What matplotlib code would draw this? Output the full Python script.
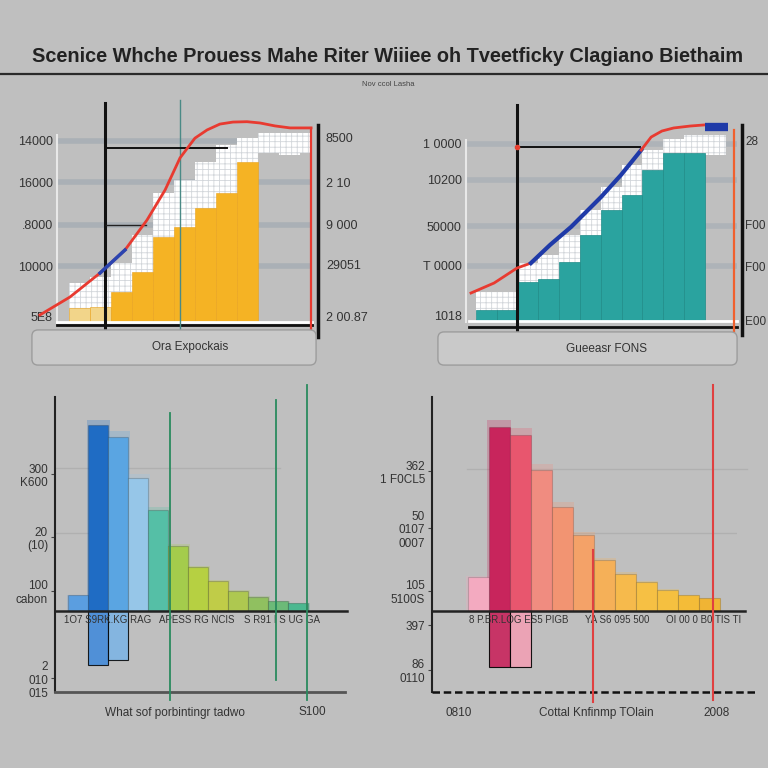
import numpy as np
import matplotlib
matplotlib.use("Agg")
import matplotlib.pyplot as plt
from matplotlib.patches import FancyBboxPatch
from matplotlib.lines import Line2D

plt.rcParams['font.family'] = ['Liberation Sans', 'DejaVu Sans']
plt.rcParams['hatch.linewidth'] = 0.6

# ---------------- data ----------------
title = "Scenice Whche Prouess Mahe Riter Wiiiee oh Tveetficky Clagiano Biethaim"
subtitle = "Nov ccol Lasha"

# top-left panel
tl_bar_x = [2, 3, 4, 5, 6, 7, 8, 9, 10]
tl_bar_v = [8, 9, 17, 28, 47, 52.5, 63, 71, 88]
tl_grid_x = [2, 3, 4, 5, 6, 7, 8, 9, 10, 11, 12, 13]
tl_grid_top = [22, 25, 33, 48, 71, 78, 88, 97, 101, 104, 104, 104]
tl_grid_bot = [0, 0, 0, 0, 0, 0, 0, 0, 0, 93, 92, 93]
tl_curve_x = [0.14, 1.57, 3.0, 4.19, 5.24, 6.1, 6.81, 7.52, 8.1, 8.71, 9.33, 10.0, 10.62, 11.33, 12.05, 13.05]
tl_curve_v = [4.4, 14.2, 27.3, 39.9, 56.3, 72.7, 90.2, 101, 105.5, 108.7, 109.8, 110, 109.3, 107.7, 106.6, 106.6]
tl_left_ticks = [99.5, 77, 53.6, 31.1, 3.3]
tl_left_labels = ["14000", "16000", ".8000", "10000", "5E8"]
tl_right_ticks = [101.6, 77, 53.6, 31.7, 3.3]
tl_right_labels = ["8500", "2 10", "9 000", "29051", "2 00.87"]
tl_xlabel = "Ora Expockais"

# top-right panel
tr_bar_x = [1, 2, 3, 4, 5, 6, 7, 8, 9, 10, 11]
tr_bar_v = [6.7, 6.7, 22.5, 24, 33.7, 48.9, 62.9, 71.3, 85.4, 95, 95]
tr_grid_x = [1, 2, 3, 4, 5, 6, 7, 8, 9, 10, 11, 12]
tr_grid_top = [17, 17, 33, 37.6, 49, 63, 76, 88, 96.6, 103, 105, 105]
tr_grid_bot = [0, 0, 0, 0, 0, 0, 0, 0, 0, 0, 0, 94]
tr_curve_x = [0.26, 1.37, 2.47, 3.14, 4.06, 5.07, 6.51, 7.47, 8.44, 8.92, 9.44, 10.0, 10.8, 11.46]
tr_curve_v = [16.3, 21.9, 30.3, 33.1, 43.3, 53.4, 70.2, 82.6, 96.6, 103.9, 107.3, 109, 110.1, 110.7]
tr_left_ticks = [100, 79.8, 53.9, 31.5, 3.9]
tr_left_labels = ["1 0000", "10200", "50000", "T 0000", "1018"]
tr_right_ticks = [102.2, 55, 30.9, 1.1]
tr_right_labels = ["28", "F00", "F00", "E00"]
tr_xlabel = "Gueeasr FONS"

# bottom-left panel
bl_x = [0, 1, 2, 3, 4, 5, 6, 7, 8, 9, 10, 11]
bl_v = [11, 130, 122, 93, 70.6, 45.5, 30.8, 21, 14, 10, 7, 5.6]
bl_neg_x = [1, 2]
bl_neg_v = [-38, -34]
bl_ticks = [95.8, 51.7, 14, -47]
bl_tick_labels = ["300\nK600", "20\n(10)", "100\ncabon", "2\n010\n015"]
bl_cat_x = [1.5, 5.95, 10.2]
bl_cat_labels = ["1O7 S9RK.KG RAG", "APESS RG NCIS", "S R91 I S UG GA"]
bl_vlines = [4.6, 9.9, 11.45]
bl_xlabel = "What sof porbintingr tadwo"
bl_xnote = "S100"

# bottom-right panel
br_x = [0, 1, 2, 3, 4, 5, 6, 7, 8, 9, 10, 11]
br_v = [23.8, 128.7, 123, 98.6, 73, 53, 35.7, 26, 20, 15, 11, 9]
br_neg_x = [1, 2]
br_neg_v = [-39, -39]
br_ticks = [97.9, 58, 14, -9.8, -41]
br_tick_labels = ["362\n1 F0CL5", "50\n0107\n0007", "105\n5100S", "397", "86\n0110"]
br_cat_x = [1.95, 6.62, 10.76]
br_cat_labels = ["8 P.BR.LOG ES5 PIGB", "YA S6 095 500", "OI 00 0 B0 TIS TI"]
br_vlines = [5.48, 11.19]
br_xlabel = "Cottal Knfinmp TOlain"
br_xnotes = ["0810", "2008"]

# ---------------- style ----------------
BG = '#bfbfbf'
TXT = '#333333'
W = H = 768
fig = plt.figure(figsize=(7.68, 7.68), dpi=100, facecolor=BG)


def panel(l, t, r, b, c0, w, base, s):
    ax = fig.add_axes([l / W, 1 - b / H, (r - l) / W, (b - t) / H])
    ax.set_xlim((l - c0) / w, (r - c0) / w)
    ax.set_ylim((base - b) / s, (base - t) / s)
    ax.set_facecolor('none')
    for sp in ax.spines.values():
        sp.set_visible(False)
    ax.set_xticks([])
    return ax


def platform(l, t, r, b, label, cx):
    p = FancyBboxPatch((l / W, 1 - b / H), (r - l) / W, (b - t) / H,
                       boxstyle="round,pad=0.004,rounding_size=0.008",
                       transform=fig.transFigure, facecolor='#c9c9c9',
                       edgecolor='#9c9c9c', linewidth=1.0, zorder=0)
    fig.patches.append(p)
    fig.text(cx / W, 1 - (t + b) / 2 / H, label, ha='center', va='center',
             fontsize=8.5, color=TXT)


# title
fig.text(0.505, 1 - 57 / H, title, ha='center', va='center', fontsize=14.3,
         fontweight='bold', color='#222222')
fig.add_artist(Line2D([0, 1], [1 - 74 / H] * 2, color='#2a2a2a', lw=1.6))
fig.text(0.505, 1 - 85 / H, subtitle, ha='center', va='center', fontsize=5.5,
         color='#444444')

# ---------- top-left ----------
platform(35, 333, 313, 362, tl_xlabel, 190)
ax = panel(57, 130, 312, 323, 37, 21, 323, 1.83)
for v in tl_left_ticks[:-1]:
    ax.axhline(v, color='#aab0b6', lw=4, zorder=0)
ax.bar(tl_grid_x, np.array(tl_grid_top) - np.array(tl_grid_bot), bottom=tl_grid_bot,
       width=1.0, color='white', edgecolor='#d2d6da', hatch='+++', lw=0, zorder=1)
ax.bar(tl_bar_x, tl_bar_v, width=1.0,
       color=['#f2d58a', '#f2d58a'] + ['#f5b324'] * 7, edgecolor='#e9a21c', lw=0.4, zorder=2)
ax.plot([0.952, 0.952], [0, 102.7], color='#e8e8e8', lw=1.5, zorder=3, clip_on=False)
ax.plot([0.95, 13.1], [0.8, 0.8], color='white', lw=2, zorder=3, clip_on=False)
ax.plot([0.95, 13.1], [-1.1, -1.1], color='#111111', lw=2, zorder=3, clip_on=False)
ax.plot([3.24, 3.24], [-3.8, 120.2], color='#111111', lw=2.2, zorder=4, clip_on=False)
ax.plot([6.81, 6.81], [-3.8, 121.9], color='#4a8a86', lw=1, zorder=4, clip_on=False)
ax.plot([3.24, 9.05], [95.6, 95.6], color='#111111', lw=1.4, zorder=4, clip_on=False)
ax.plot([3.3, 5.2], [53.6, 53.6], color='#222222', lw=1, zorder=4, clip_on=False)
ax.plot([13.38, 13.38], [-7.6, 108], color='#111111', lw=2.5, zorder=4, clip_on=False)
ax.plot([13.05, 13.05], [-9.3, 106.6], color='#e83a30', lw=1.6, zorder=5, clip_on=False)
ax.plot(tl_curve_x, tl_curve_v, color='#e83a30', lw=2, zorder=5, clip_on=False)
ax.plot(tl_curve_x[2:4], tl_curve_v[2:4], color='#2a44b0', lw=2.5, zorder=6, clip_on=False)
ax.set_yticks(tl_left_ticks, tl_left_labels)
ax.tick_params(axis='y', length=0, pad=3, labelsize=9, labelcolor=TXT)
ax2 = ax.twinx()
ax2.set_ylim(ax.get_ylim())
for sp in ax2.spines.values():
    sp.set_visible(False)
ax2.set_yticks(tl_right_ticks, tl_right_labels)
ax2.tick_params(axis='y', length=0, pad=10, labelsize=9, labelcolor=TXT)

# ---------- top-right ----------
platform(441, 335, 734, 362, tr_xlabel, 606)
ax = panel(466, 135, 737, 322, 465.6, 20.8, 322, 1.78)
for v in tr_left_ticks[:-1]:
    ax.axhline(v, color='#aeb3b8', lw=4, zorder=0)
ax.bar(tr_grid_x, np.array(tr_grid_top) - np.array(tr_grid_bot), bottom=tr_grid_bot,
       width=1.0, color='white', edgecolor='#d2d6da', hatch='+++', lw=0, zorder=1)
ax.bar(tr_bar_x, tr_bar_v, width=1.0, color='#2aa39f', edgecolor='#1f8c88', lw=0.5, zorder=2)
ax.plot([0.02, 0.02], [0, 102], color='#e8e8e8', lw=1.5, zorder=3, clip_on=False)
ax.plot([0.17, 13.05], [0.3, 0.3], color='white', lw=2, zorder=3, clip_on=False)
ax.plot([0.17, 13.05], [-2.8, -2.8], color='#111111', lw=2, zorder=3, clip_on=False)
ax.plot([2.47, 2.47], [-7.3, 121.9], color='#111111', lw=2.2, zorder=4, clip_on=False)
ax.plot([2.4, 8.4], [98.3, 98.3], color='#111111', lw=1.4, zorder=4, clip_on=False)
ax.plot([2.45], [98.3], 'o', color='#e84030', ms=3, zorder=5, clip_on=False)
ax.plot([12.9, 12.9], [-10.1, 107.9], color='#f0602e', lw=1.6, zorder=5, clip_on=False)
ax.plot([13.29, 13.29], [-7.3, 110.7], color='#111111', lw=2.5, zorder=4, clip_on=False)
ax.plot(tr_curve_x[:4], tr_curve_v[:4], color='#e83a30', lw=2, zorder=5, clip_on=False)
ax.plot(tr_curve_x[3:9], tr_curve_v[3:9], color='#1f3aa8', lw=3, zorder=5, clip_on=False)
ax.plot(tr_curve_x[8:], tr_curve_v[8:], color='#e83a30', lw=2, zorder=5, clip_on=False)
ax.plot([11.5, 12.6], [109.5, 109.5], color='#1f3aa8', lw=6, zorder=5, solid_capstyle='butt', clip_on=False)
ax.set_yticks(tr_left_ticks, tr_left_labels)
ax.tick_params(axis='y', length=0, pad=3, labelsize=9, labelcolor=TXT)
ax2 = ax.twinx()
ax2.set_ylim(ax.get_ylim())
for sp in ax2.spines.values():
    sp.set_visible(False)
ax2.set_yticks(tr_right_ticks, tr_right_labels)
ax2.tick_params(axis='y', length=0, pad=6, labelsize=8.5, labelcolor=TXT)

# ---------- bottom-left ----------
ax = panel(55, 397, 345, 692, 78, 20, 611, 1.43)
ax.spines['left'].set_visible(True)
ax.spines['left'].set_color('#222222')
ax.spines['left'].set_linewidth(1.5)
ax.plot([-1.15, 10.1], [100, 100], color='#b0b0b0', lw=1, zorder=0)
ax.plot([-1.15, 4.1], [54.5, 54.5], color='#b0b0b0', lw=1, zorder=0)
bl_cols = ['#5b9ee0', '#1f6cc4', '#5aa5e2', '#96c6e8', '#55bfa6', '#a4cc4c',
           '#b6d042', '#c0cc48', '#aec850', '#90c060', '#6cba78', '#4cb890']
ax.bar(bl_x, np.array(bl_v) * 1.03, width=1.15, color=bl_cols, alpha=0.25, lw=0, zorder=1)
ax.bar(bl_x, bl_v, width=1.0, color=bl_cols, edgecolor='#00000030', lw=0.8, zorder=2)
ax.bar(bl_neg_x, bl_neg_v, width=1.0, color=['#3d88dc', '#7ab4e6'], alpha=0.85,
       edgecolor='#00000030', lw=0.8, zorder=2)
ax.plot([-1.15, 13.45], [0, 0], color='#222222', lw=1.8, zorder=3, clip_on=False)
ax.plot([-1.15, 13.35], [-56.6, -56.6], color='#555555', lw=2, zorder=3, clip_on=False)
tops = [138.5, 147.6, 158]
bots = [-62.2, -48.3, -62.2]
for xv, t, b in zip(bl_vlines, tops, bots):
    ax.plot([xv, xv], [b, t], color='#2a8a5e', lw=1.3, zorder=4, clip_on=False)
ax.set_yticks(bl_ticks, bl_tick_labels)
ax.tick_params(axis='y', length=3, width=0.8, color='#444', pad=2, labelsize=8.5,
               labelcolor=TXT)
for xv, lab in zip(bl_cat_x, bl_cat_labels):
    ax.text(xv, -3, lab, ha='center', va='top', fontsize=7, color=TXT, clip_on=False)
ax.text(4.85, -71.3, bl_xlabel, ha='center', va='center', fontsize=8.5, color=TXT, clip_on=False)
ax.text(11.7, -70.5, bl_xnote, ha='center', va='center', fontsize=8.5, color=TXT, clip_on=False)

# ---------- bottom-right ----------
ax = panel(432, 397, 737, 692, 478, 21, 611, 1.43)
ax.spines['left'].set_visible(True)
ax.spines['left'].set_color('#222222')
ax.spines['left'].set_linewidth(1.5)
ax.plot([-0.52, 12.8], [99.3, 99.3], color='#b0b0b0', lw=1, zorder=0, clip_on=False)
ax.plot([3.43, 12.33], [54.5, 54.5], color='#b0b0b0', lw=1, zorder=0)
br_cols = ['#f3aac0', '#c8255c', '#e8566e', '#f08c80', '#f29472', '#f4a268',
           '#f5b058', '#f6ba4c', '#f6c044', '#f5c040', '#f4bc38', '#f0b434']
ax.bar(br_x, np.array(br_v) * 1.04, width=1.15, color=br_cols, alpha=0.25, lw=0, zorder=1)
ax.bar(br_x, br_v, width=1.0, color=br_cols, edgecolor='#00000028', lw=0.8, zorder=2)
ax.bar(br_neg_x, br_neg_v, width=1.0, color=['#c8255c', '#f0a0b4'], alpha=0.9,
       edgecolor='#00000028', lw=0.8, zorder=2)
ax.plot([-2.19, 12.7], [0, 0], color='#222222', lw=1.8, zorder=3, clip_on=False)
ax.plot([-2.19, 13.29], [-56.6, -56.6], color='#111111', lw=1.8, ls=(0, (3, 1.5)),
        zorder=3, clip_on=False)
tops = [42.7, 158]
bots = [-63.6, -62.2]
for xv, t, b in zip(br_vlines, tops, bots):
    ax.plot([xv, xv], [b, t], color='#e04040', lw=1.5, zorder=4, clip_on=False)
ax.set_yticks(br_ticks, br_tick_labels)
ax.tick_params(axis='y', length=3, width=0.8, color='#444', pad=2, labelsize=8.5,
               labelcolor=TXT)
for xv, lab in zip(br_cat_x, br_cat_labels):
    ax.text(xv, -3, lab, ha='center', va='top', fontsize=7, color=TXT, clip_on=False)
ax.text(5.62, -71.3, br_xlabel, ha='center', va='center', fontsize=8.5, color=TXT, clip_on=False)
ax.text(-0.9, -71.3, br_xnotes[0], ha='center', va='center', fontsize=8.5, color=TXT, clip_on=False)
ax.text(11.38, -71.3, br_xnotes[1], ha='center', va='center', fontsize=8.5, color=TXT, clip_on=False)

fig.savefig("out.png", dpi=100, facecolor=BG)
